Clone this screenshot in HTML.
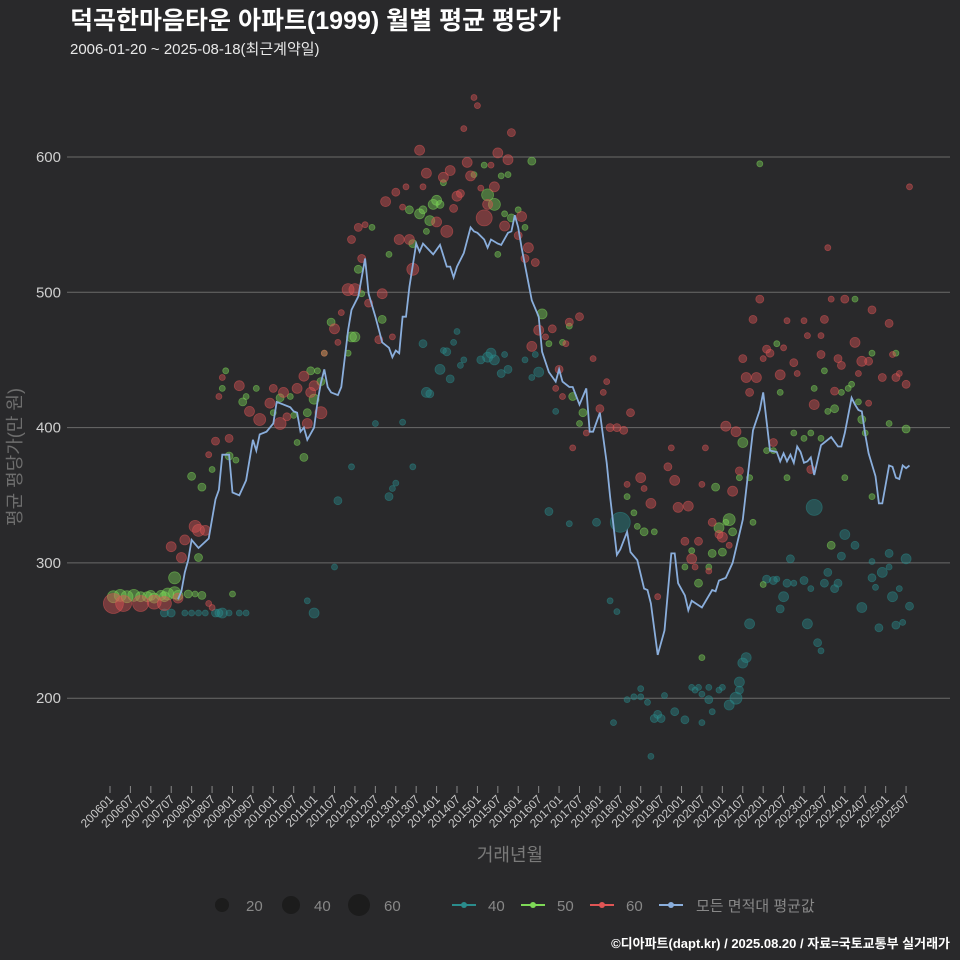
<!DOCTYPE html>
<html><head><meta charset="utf-8">
<style>
html,body{margin:0;padding:0;background:#29292b;}
svg{display:block;font-family:"Liberation Sans","Noto Sans CJK KR",sans-serif;}
</style></head>
<body>
<svg id="chart" width="960" height="960" viewBox="0 0 960 960">
<rect x="0" y="0" width="960" height="960" fill="#29292b"/>
<text x="70" y="29" font-size="25" font-weight="bold" fill="#ffffff">덕곡한마음타운 아파트(1999) 월별 평균 평당가</text>
<text x="70" y="54" font-size="15" fill="#e8e8e8">2006-01-20 ~ 2025-08-18(최근계약일)</text>
<g id="grid"></g>
<g id="yaxis"></g>
<g id="xaxis"></g>
<g id="points"></g>
<path id="avgline" fill="none" stroke="#8aaedc" stroke-width="1.8"/>
<text transform="translate(21,457) rotate(-90)" text-anchor="middle" font-size="18" fill="#6e6e6e">평균 평당가(만 원)</text>
<text x="510" y="861" text-anchor="middle" font-size="18" fill="#7a7a7a">거래년월</text>
<g>
<circle cx="222" cy="905" r="7" fill="#1c1c1c"/>
<text x="246" y="911" font-size="15" fill="#888">20</text>
<circle cx="291" cy="905" r="9" fill="#1c1c1c"/>
<text x="314" y="911" font-size="15" fill="#888">40</text>
<circle cx="359" cy="905" r="11" fill="#1c1c1c"/>
<text x="384" y="911" font-size="15" fill="#888">60</text>
<line x1="452" y1="905" x2="476" y2="905" stroke="#2a8c8c" stroke-width="2"/>
<circle cx="464" cy="905" r="3" fill="#2a8c8c"/>
<text x="488" y="911" font-size="15" fill="#888">40</text>
<line x1="521" y1="905" x2="545" y2="905" stroke="#7ed957" stroke-width="2"/>
<circle cx="533" cy="905" r="3" fill="#7ed957"/>
<text x="557" y="911" font-size="15" fill="#888">50</text>
<line x1="590" y1="905" x2="614" y2="905" stroke="#e05555" stroke-width="2"/>
<circle cx="602" cy="905" r="3" fill="#e05555"/>
<text x="626" y="911" font-size="15" fill="#888">60</text>
<line x1="659" y1="905" x2="683" y2="905" stroke="#8aaedc" stroke-width="2"/>
<circle cx="671" cy="905" r="3" fill="#8aaedc"/>
<text x="696" y="911" font-size="15" fill="#888">모든 면적대 평균값</text>
</g>
<text x="950" y="948" text-anchor="end" font-size="13" font-weight="bold" fill="#ffffff">©디아파트(dapt.kr) / 2025.08.20 / 자료=국토교통부 실거래가</text>
</svg>
<script>
const yTicks=[200,300,400,500,600];
const xTickLabels=["200601","200607","200701","200707","200801","200807","200901","200907","201001","201007","201101","201107","201201","201207","201301","201307","201401","201407","201501","201507","201601","201607","201701","201707","201801","201807","201901","201907","202001","202007","202101","202107","202201","202207","202301","202307","202401","202407","202501","202507"];
const lineMonths=[20,21,22,23,24,26,29,31,32,33,35,36,38,40,42,43,44,46,48,49,51,53,54,55,56,57,58,60,61,62,63,64,65,67,68,70,71,73,75,76,78,80,82,83,84,85,86,87,88,90,91,92,95,97,99,100,101,102,104,106,107,108,110,111,112,114,115,117,118,119,120,121,124,126,127,129,131,132,133,135,136,138,140,141,142,144,146,147,149,150,152,153,155,157,158,159,161,163,165,166,167,169,170,171,174,177,178,179,181,183,186,189,191,192,194,196,197,198,199,200,201,202,203,204,205,206,207,209,210,212,214,215,216,218,219,220,221,222,223,225,226,227,229,230,231,232,233,234,235];
const lineValues=[273,279,293,302,317,311,318,347,354,380,380,352,350,361,391,383,395,397,403,419,417,415,412,411,397,400,391,400,419,433,443,430,426,424,430,472,487,497,525,499,482,463,459,452,457,455,482,482,504,536,530,536,528,535,519,519,511,519,529,548,545,544,539,533,539,536,535,544,545,557,548,533,494,482,456,441,434,443,434,430,430,417,429,397,397,411,374,349,306,310,323,308,302,281,280,270,232,250,307,307,285,276,265,272,267,280,279,287,289,300,332,398,413,426,383,382,375,381,375,380,374,386,382,374,375,378,365,387,389,393,386,386,396,422,417,413,412,395,381,364,344,344,372,371,363,362,372,370,372];
const pts60=[[1,270,10],[4,270,8],[9,270,8],[13,271,7],[16,270,7],[20,274,5],[18,312,5],[21,304,5],[22,317,5],[26,324,6],[28,324,5],[25,327,6],[29,270,3],[30,267,3],[31,390,4],[35,392,4],[29,380,3],[33,437,3],[32,423,3],[38,431,5],[41,412,5],[44,406,6],[47,418,5],[48,429,4],[50,403,6],[51,426,5],[52,408,4],[55,429,5],[57,438,5],[58,403,5],[59,426,5],[60,431,5],[62,411,6],[63,455,3],[66,473,5],[67,463,3],[68,485,3],[70,502,6],[72,502,6],[71,539,4],[73,548,4],[75,550,3],[74,525,4],[76,492,4],[80,499,5],[79,465,4],[83,467,3],[81,567,5],[84,574,4],[86,563,3],[87,578,3],[85,539,5],[88,539,5],[89,517,6],[92,578,3],[93,588,5],[91,605,5],[98,585,5],[100,590,5],[96,552,5],[99,545,6],[101,562,4],[102,571,5],[103,573,4],[105,596,5],[106,586,5],[109,577,3],[110,555,8],[112,594,3],[114,603,5],[113,578,5],[111,565,5],[117,598,5],[118,618,4],[116,549,5],[121,556,5],[120,542,4],[123,533,5],[122,525,4],[125,522,4],[126,472,5],[130,473,4],[124,460,5],[132,443,4],[133,423,3],[107,644,3],[108,638,3],[104,621,3],[235,578,3],[138,482,4],[135,478,4],[128,467,3],[134,462,3],[142,451,3],[146,434,3],[145,426,3],[131,429,3],[144,414,4],[153,411,4],[147,400,4],[149,400,4],[151,398,4],[140,396,3],[136,385,3],[165,385,3],[164,371,4],[175,385,3],[181,401,5],[184,397,5],[185,368,4],[183,353,5],[166,361,5],[156,363,5],[152,358,3],[157,355,3],[174,358,3],[159,344,5],[167,341,5],[170,342,5],[177,330,4],[179,321,4],[180,319,5],[182,313,3],[169,316,4],[173,316,4],[171,303,5],[172,297,3],[176,294,3],[161,275,3],[191,495,4],[189,480,4],[199,479,3],[204,479,3],[210,480,4],[212,495,3],[216,495,4],[224,487,4],[229,477,4],[205,468,3],[209,468,3],[219,463,5],[193,458,4],[194,455,4],[198,459,3],[192,451,3],[186,451,4],[209,454,4],[214,451,4],[221,449,5],[223,449,4],[230,454,3],[201,448,4],[215,446,4],[187,437,5],[190,437,5],[197,439,5],[202,440,3],[220,440,3],[227,437,4],[231,437,4],[232,440,3],[234,432,4],[188,426,4],[213,427,4],[207,417,5],[223,418,3],[195,389,4],[206,369,4],[211,533,3]];
const pts50=[[1,275,6],[3,276,6],[5,275,6],[7,276,6],[9,275,5],[11,275,5],[13,274,5],[15,276,5],[17,277,6],[19,278,6],[20,276,5],[16,275,5],[23,277,4],[27,276,4],[12,276,5],[19,289,6],[24,364,4],[27,356,4],[26,304,4],[30,369,3],[35,379,4],[37,376,3],[25,277,3],[36,277,3],[57,378,4],[55,389,3],[34,442,3],[33,429,3],[39,419,4],[40,423,3],[43,429,3],[48,411,3],[50,422,4],[53,423,3],[54,409,3],[58,411,4],[59,442,4],[61,442,3],[60,421,5],[62,434,4],[63,455,3],[65,478,4],[70,455,3],[71,467,5],[72,467,5],[73,517,4],[74,499,3],[77,548,3],[80,480,4],[82,528,3],[88,561,4],[89,536,4],[91,558,5],[92,561,4],[93,545,3],[94,553,5],[95,565,5],[96,568,5],[97,565,4],[98,581,3],[107,587,3],[110,594,3],[111,572,6],[113,565,6],[115,586,3],[116,558,3],[117,587,3],[118,555,4],[120,561,3],[122,548,3],[124,597,4],[114,528,3],[127,484,5],[129,462,3],[133,463,3],[135,475,3],[136,423,4],[139,411,4],[138,403,3],[186,389,5],[185,363,3],[188,363,3],[178,356,4],[152,349,3],[154,337,3],[155,327,3],[157,323,4],[160,323,3],[182,332,6],[181,330,3],[179,326,5],[183,323,4],[189,330,3],[180,308,4],[177,307,4],[171,309,3],[169,297,3],[176,297,3],[173,285,4],[192,284,3],[174,230,3],[193,383,3],[195,383,3],[197,426,3],[196,462,3],[207,429,3],[210,442,3],[211,412,3],[213,414,4],[215,426,3],[217,429,3],[218,432,3],[224,455,3],[231,455,3],[220,419,3],[221,406,4],[222,396,3],[229,403,3],[234,399,4],[201,396,3],[204,392,3],[206,396,3],[209,392,3],[199,363,3],[216,363,3],[224,349,3],[212,313,4],[219,495,3],[191,595,3]];
const pts40=[[16,263,4],[18,263,4],[22,263,3],[24,263,3],[26,263,3],[28,263,3],[31,263,4],[32,263,4],[33,263,5],[35,263,3],[38,263,3],[40,263,3],[66,297,3],[67,346,4],[58,272,3],[60,263,5],[78,403,3],[86,404,3],[71,371,3],[89,371,3],[92,462,4],[98,457,3],[99,456,4],[101,463,3],[102,471,3],[97,443,5],[100,436,4],[93,426,5],[94,425,4],[103,446,3],[104,450,3],[109,450,4],[111,452,5],[112,455,5],[113,450,5],[115,440,4],[116,454,3],[117,443,4],[122,450,3],[124,437,3],[126,441,5],[125,454,3],[131,412,3],[82,349,4],[83,355,3],[84,359,3],[129,338,4],[135,329,3],[143,330,4],[150,330,10],[147,272,3],[149,264,3],[207,341,8],[216,321,5],[219,313,4],[215,305,4],[200,303,4],[229,307,4],[234,303,5],[224,301,3],[229,297,3],[227,293,5],[211,293,4],[224,289,4],[193,288,4],[195,287,4],[196,288,3],[199,285,4],[201,285,3],[204,287,4],[210,285,4],[214,285,4],[213,281,4],[206,281,3],[225,282,3],[232,281,3],[198,275,5],[230,275,5],[221,267,5],[197,266,4],[235,268,4],[188,255,5],[205,255,5],[226,252,4],[231,254,4],[233,256,3],[208,241,4],[209,235,3],[187,230,5],[186,226,5],[185,212,5],[176,208,3],[171,208,3],[173,208,3],[180,208,3],[156,207,3],[148,182,3],[152,199,3],[154,201,3],[156,201,3],[158,197,3],[161,188,4],[159,157,3],[163,202,3],[162,185,4],[160,185,4],[166,190,4],[169,184,4],[172,206,3],[174,203,3],[176,199,4],[179,206,3],[182,195,5],[185,206,4],[184,200,6],[177,190,3],[174,182,3]];

const NS="http://www.w3.org/2000/svg";
function X(m){return 110+m*3.402;}
function Y(v){return 157+(600-v)*1.353;}
function mk(tag,attrs,parent){const e=document.createElementNS(NS,tag);for(const k in attrs)e.setAttribute(k,attrs[k]);parent.appendChild(e);return e;}
const grid=document.getElementById('grid'),yax=document.getElementById('yaxis'),xax=document.getElementById('xaxis');
yTicks.forEach(t=>{
  const l=mk('line',{x1:67,x2:950,y1:Y(t),y2:Y(t),stroke:'#6a6a6a','stroke-width':1},grid);
  
  
  const tx=mk('text',{x:61,y:Y(t)+5,'text-anchor':'end','font-size':15,fill:'#cfcfcf'},yax);
  tx.textContent=t;
  
  
});
xTickLabels.forEach((lab,i)=>{
  const x=X(i*6);
  const tk=mk('line',{x1:x,x2:x,y1:786,y2:793,stroke:'#888','stroke-width':1},xax);
  
  
  const tx=mk('text',{x:0,y:0,'text-anchor':'end','font-size':12,fill:'#c8c8c8',transform:'translate('+(x+4)+',800) rotate(-45)'},xax);
  tx.textContent=lab;
  
  
});
const pg=document.getElementById('points');
function drawPts(arr,color,name){
  arr.forEach(p=>{
    const c=mk('circle',{cx:X(p[0]).toFixed(1),cy:Y(p[1]).toFixed(1),r:p[2],fill:color,'fill-opacity':0.42,stroke:color,'stroke-opacity':0.5,'stroke-width':0.8},pg);
    
    
  });
}
drawPts(pts40,'#2a8c8c','point-40');
drawPts(pts50,'#7ed957','point-50');
drawPts(pts60,'#e05555','point-60');
let d='';
lineMonths.forEach((m,i)=>{d+=(i?'L':'M')+X(m).toFixed(1)+','+Y(lineValues[i]).toFixed(1);});
document.getElementById('avgline').setAttribute('d',d);
</script>
</body></html>
